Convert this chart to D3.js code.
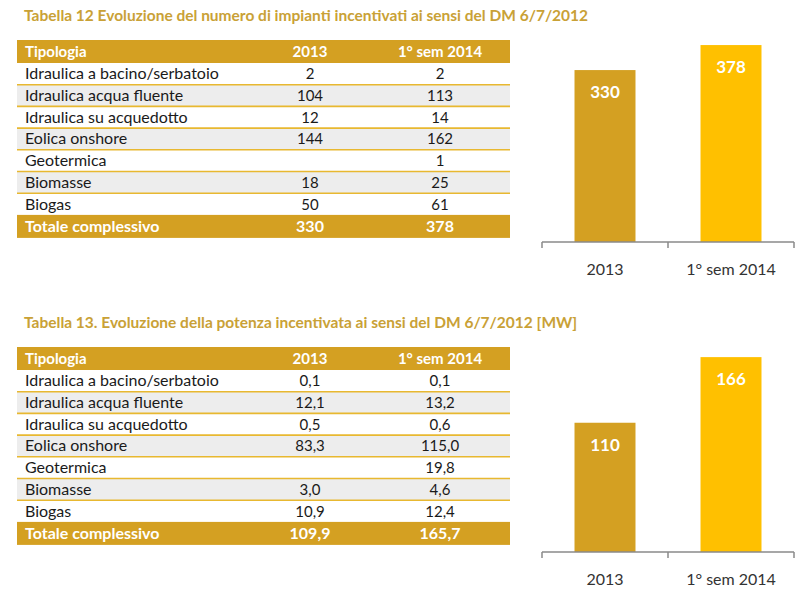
<!DOCTYPE html>
<html><head><meta charset="utf-8">
<script src="https://cdn.jsdelivr.net/npm/d3@7"></script>
<style>
html,body{margin:0;padding:0;background:#fff;}
svg{display:block;font-family:Lato,"Open Sans",sans-serif;}
</style></head>
<body>
<svg id="c" width="800" height="596"></svg>
<script>
// ---- data ----
const title1 = "Tabella 12 Evoluzione del numero di impianti incentivati ai sensi del DM 6/7/2012";
const title2 = "Tabella 13. Evoluzione della potenza incentivata ai sensi del DM 6/7/2012 [MW]";
const headers = ["Tipologia", "2013", "1° sem 2014"];
const tipologie = ["Idraulica a bacino/serbatoio","Idraulica acqua fluente","Idraulica su acquedotto","Eolica onshore","Geotermica","Biomasse","Biogas"];
const totalLabel = "Totale complessivo";
const impianti2013 = ["2","104","12","144","","18","50"];
const impianti2014 = ["2","113","14","162","1","25","61"];
const impiantiTot = ["330","378"];
const potenza2013 = ["0,1","12,1","0,5","83,3","","3,0","10,9"];
const potenza2014 = ["0,1","13,2","0,6","115,0","19,8","4,6","12,4"];
const potenzaTot = ["109,9","165,7"];
const periods = ["2013","1° sem 2014"];
const barsImpianti = [330, 378];
const barsPotenza = [109.9, 165.7];
const barLabelsImpianti = ["330","378"];
const barLabelsPotenza = ["110","166"];

const GOLD = "#D4A022", YEL = "#FFC000", TCOL = "#C9A136";
const svg = d3.select("#c");

function drawTable(top, col1, col2, tot){
  const g = svg.append("g");
  const headH = 23, rowH = 21.7;
  const x0 = 17, x1 = 510;
  const colX = [25, 310, 440];
  const y = d3.scaleBand().domain(d3.range(tipologie.length)).range([top+headH, top+headH+rowH*tipologie.length]);
  g.append("rect").attr("x",x0).attr("y",top).attr("width",x1-x0).attr("height",headH).attr("fill",GOLD);
  headers.forEach((h,i)=>{
    g.append("text").attr("x",colX[i]).attr("y",top+headH/2+5.5)
      .attr("text-anchor", i===0?"start":"middle")
      .attr("fill","#fff").attr("font-weight","bold").attr("font-size",15).text(h);
  });
  tipologie.forEach((t,i)=>{
    const yy = y(i);
    g.append("rect").attr("x",x0).attr("y",yy).attr("width",x1-x0).attr("height",y.bandwidth())
      .attr("fill", i%2===1 ? "#EDEDED" : "#fff");
    g.append("text").attr("x",colX[0]).attr("y",yy+y.bandwidth()/2+5.5).attr("font-size",16).attr("fill","#1a1a1a").text(t);
    g.append("text").attr("x",colX[1]).attr("y",yy+y.bandwidth()/2+5.5).attr("text-anchor","middle").attr("font-size",15).attr("fill","#1a1a1a").text(col1[i]);
    g.append("text").attr("x",colX[2]).attr("y",yy+y.bandwidth()/2+5.5).attr("text-anchor","middle").attr("font-size",15).attr("fill","#1a1a1a").text(col2[i]);
    if(i>0) g.append("line").attr("x1",x0).attr("x2",x1).attr("y1",yy).attr("y2",yy).attr("stroke","#E8B830").attr("stroke-width",1.6);
  });
  const ty = top+headH+rowH*tipologie.length;
  g.append("rect").attr("x",x0).attr("y",ty).attr("width",x1-x0).attr("height",headH).attr("fill",GOLD);
  [totalLabel, tot[0], tot[1]].forEach((h,i)=>{
    g.append("text").attr("x",colX[i]).attr("y",ty+headH/2+5.5)
      .attr("text-anchor", i===0?"start":"middle")
      .attr("fill","#fff").attr("font-weight","bold").attr("font-size",16).text(h);
  });
}

function drawBars(axisY, ymax, plotH, values, labels){
  const g = svg.append("g");
  const x = d3.scaleBand().domain(periods).range([542,794]).paddingInner(0.516).paddingOuter(0.258);
  const y = d3.scaleLinear().domain([0,ymax]).range([axisY, axisY-plotH]);
  const cols = [GOLD, YEL];
  g.selectAll("rect.bar").data(periods).join("rect").attr("class","bar")
    .attr("x",d=>x(d)).attr("width",x.bandwidth())
    .attr("y",(d,i)=>y(values[i])).attr("height",(d,i)=>axisY-y(values[i]))
    .attr("fill",(d,i)=>cols[i]);
  g.selectAll("text.val").data(periods).join("text").attr("class","val")
    .attr("x",d=>x(d)+x.bandwidth()/2).attr("y",(d,i)=>y(values[i])+28)
    .attr("text-anchor","middle").attr("fill","#fff").attr("font-weight","bold").attr("font-size",17)
    .text((d,i)=>labels[i]);
  const ax = g.append("g").attr("transform",`translate(0,${axisY})`)
    .call(d3.axisBottom(x).tickSize(0).tickPadding(22));
  ax.select(".domain").attr("stroke","#8a8a8a").attr("stroke-width",1.5).attr("d","M542,0H794");
  ax.selectAll(".tick text").attr("font-size",16).attr("fill","#333").attr("font-family","Lato,sans-serif");
  const edges = [542, 542 + x.step(), 794];
  g.selectAll("line.tk").data(edges).join("line").attr("class","tk")
    .attr("x1",d=>d).attr("x2",d=>d).attr("y1",axisY).attr("y2",axisY+6)
    .attr("stroke","#8a8a8a").attr("stroke-width",1.5);
}

svg.append("text").attr("x",24).attr("y",21).attr("fill",TCOL).attr("font-weight","bold").attr("font-size",15.5).text(title1);
svg.append("text").attr("x",24).attr("y",328).attr("fill",TCOL).attr("font-weight","bold").attr("font-size",15.5).text(title2);

drawTable(40, impianti2013, impianti2014, impiantiTot);
drawTable(347, potenza2013, potenza2014, potenzaTot);

drawBars(242, 400, 208.4, barsImpianti, barLabelsImpianti);
drawBars(552, 180, 211.7, barsPotenza, barLabelsPotenza);
</script>
</body></html>
